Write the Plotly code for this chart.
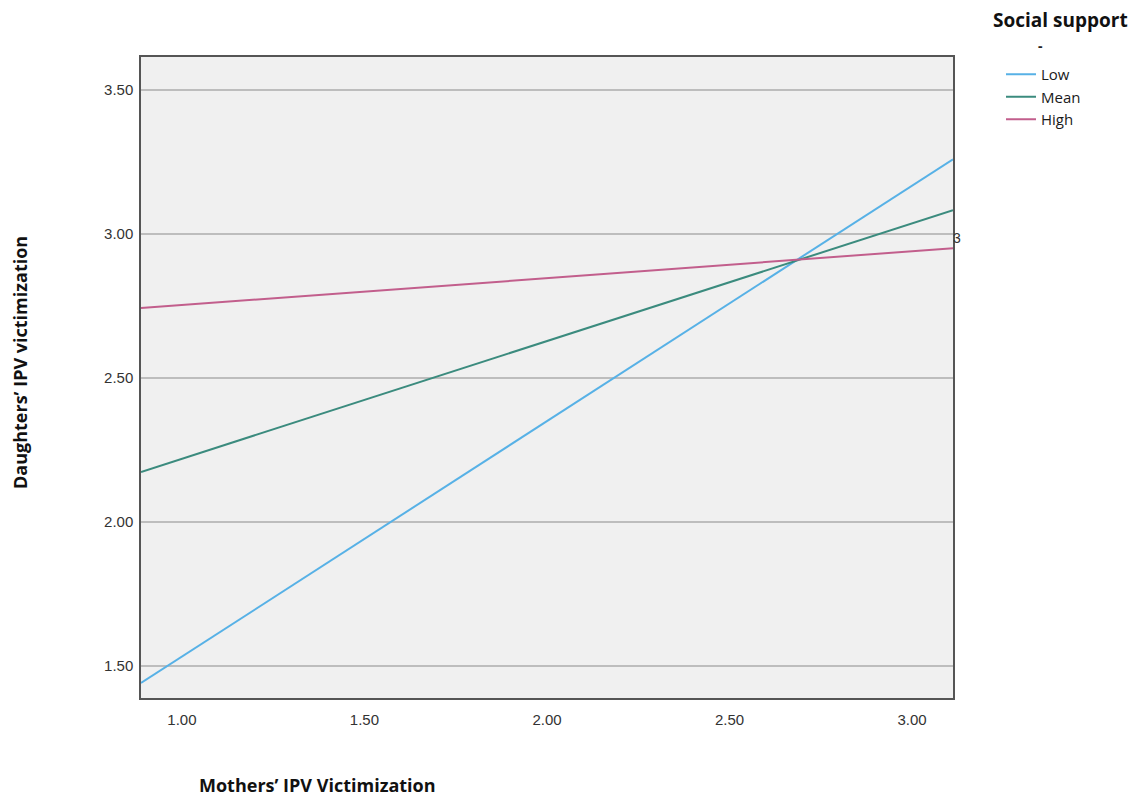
import plotly.graph_objects as go

# Data
x_range_vals = [0.888, 3.112]
series_names = ["Low", "Mean", "High"]
low_vals = [1.441, 3.260]
mean_vals = [2.174, 3.083]
high_vals = [2.743, 2.951]
colors = ["#57b1e6", "#3b8b7e", "#c25e8c"]
y_ticks = [1.50, 2.00, 2.50, 3.00, 3.50]
x_ticks = [1.00, 1.50, 2.00, 2.50, 3.00]

# page body has an 8px margin; compensate so plot area lands at 141..953 x 57..698
OFF = 8
PL, PR, PT, PB = 141, 953, 57, 698
W, H = 1136 - OFF, 798 - OFF

def px(x):
    return (x - PL) / (PR - PL)

def py(y):
    return (PB - y) / (PB - PT)

fig = go.Figure()
for name, vals, col in zip(series_names, [low_vals, mean_vals, high_vals], colors):
    fig.add_trace(go.Scatter(x=x_range_vals, y=vals, mode="lines", name=name,
                             line=dict(color=col, width=2)))

fig.update_layout(
    width=W, height=H,
    margin=dict(l=PL - OFF, r=1136 - PR, t=PT - OFF, b=798 - PB, pad=0),
    plot_bgcolor="#f0f0f0", paper_bgcolor="white",
    font=dict(family="Liberation Sans, Arial", color="#333"),
    showlegend=True,
    legend=dict(x=px(1001), y=py(58), xanchor="left", yanchor="top",
                font=dict(family="Open Sans", size=15, color="#1a1a1a"),
                bgcolor="rgba(0,0,0,0)", tracegroupgap=0, itemwidth=30),
    xaxis=dict(range=[0.888, 3.112], tickvals=x_ticks, ticktext=[f"{v:.2f}" for v in x_ticks],
               showgrid=False, zeroline=False, showline=True, linecolor="#555", linewidth=1.5,
               mirror=True, ticks="outside", ticklen=7, tickcolor="rgba(0,0,0,0)",
               tickfont=dict(size=15, color="#333")),
    yaxis=dict(range=[1.389, 3.615], tickvals=y_ticks, ticktext=[f"{v:.2f}" for v in y_ticks],
               showgrid=True, gridcolor="#bdbdbd", gridwidth=1.5, zeroline=False,
               showline=True, linecolor="#555", linewidth=1.5, mirror=True,
               ticks="outside", ticklen=3, tickcolor="rgba(0,0,0,0)",
               tickfont=dict(size=15, color="#333")),
    annotations=[
        dict(text="<b>Social support</b>", x=px(1060), y=py(20), xref="paper", yref="paper",
             xanchor="center", yanchor="middle", showarrow=False,
             font=dict(family="Open Sans", size=19, color="#111")),
        dict(text="<b>Mothers’ IPV Victimization</b>", x=px(317), y=py(785),
             xref="paper", yref="paper", xanchor="center", yanchor="middle", showarrow=False,
             font=dict(family="Open Sans", size=18, color="#111")),
        dict(text="<b>Daughters’ IPV victimization</b>", x=px(20), y=py(362),
             xref="paper", yref="paper", xanchor="center", yanchor="middle",
             showarrow=False, textangle=-90,
             font=dict(family="Open Sans", size=18, color="#111")),
        dict(text="3", x=px(951), y=py(238), xref="paper", yref="paper", xanchor="left",
             yanchor="middle", showarrow=False,
             font=dict(family="Liberation Sans", size=14, color="#333")),
        dict(text="<b>-</b>", x=px(1040), y=py(46), xref="paper", yref="paper",
             xanchor="center", yanchor="middle",
             showarrow=False, font=dict(family="Open Sans", size=14, color="#222")),
    ],
)
fig.write_html("out.html")
